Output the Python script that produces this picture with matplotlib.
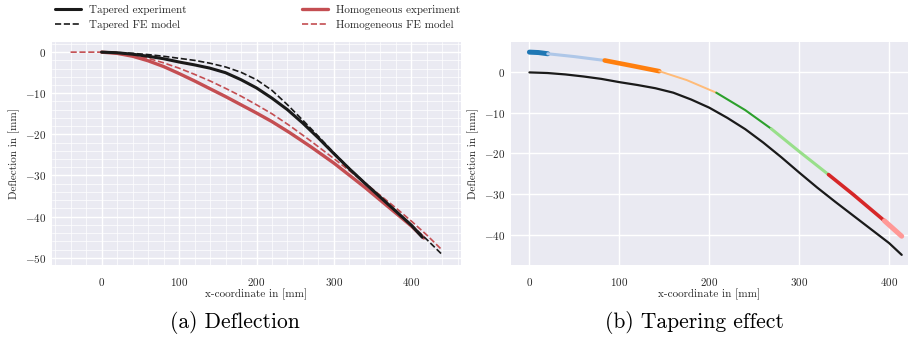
import matplotlib
matplotlib.use("Agg")
import matplotlib.pyplot as plt
import seaborn as sns
from matplotlib.ticker import AutoMinorLocator
from matplotlib.lines import Line2D

# ---------------- data ----------------
# Tapered experiment
tap_exp_x = [0, 20, 40, 60, 80, 100, 120, 140, 160, 180, 200, 220, 240, 260, 280,
             300, 320, 340, 360, 380, 400, 414]
tap_exp_y = [0, -0.15, -0.5, -1.0, -1.6, -2.4, -3.1, -3.9, -5.0, -6.7, -8.7, -11.2,
             -14.0, -17.3, -20.9, -24.7, -28.4, -31.9, -35.3, -38.7, -42.1, -45.0]
# Tapered FE model
tap_fe_x = [0, 20, 40, 60, 80, 100, 120, 140, 160, 180, 200, 220, 240, 260, 280,
            300, 320, 340, 360, 380, 400, 420, 440]
tap_fe_y = [0, -0.1, -0.3, -0.6, -1.0, -1.5, -2.0, -2.7, -3.6, -4.9, -6.7, -9.3,
            -12.8, -16.6, -20.5, -24.5, -28.3, -31.8, -35.3, -38.7, -42.1, -45.6,
            -49.3]
# Homogeneous experiment
hom_exp_x = [0, 20, 40, 60, 80, 100, 120, 140, 160, 180, 200, 220, 243, 270, 300,
             340, 370, 400, 416]
hom_exp_y = [0, -0.3, -1.0, -2.1, -3.5, -5.2, -7.0, -8.9, -10.8, -12.8, -14.8,
             -16.9, -19.6, -23.0, -27.0, -32.9, -37.6, -42.3, -45.2]
# Homogeneous FE model
hom_fe_x = [-40, 0, 20, 40, 60, 80, 100, 120, 140, 160, 180, 200, 220, 243, 270,
            300, 340, 380, 400, 420, 440]
hom_fe_y = [0, 0, -0.2, -0.7, -1.5, -2.6, -3.9, -5.4, -7.0, -8.8, -10.7, -12.8,
            -15.0, -17.9, -21.6, -25.9, -31.8, -37.9, -41.1, -44.5, -48.2]
# Tapering effect: section curve (offset) and section boundaries (indices)
sec_x = [0, 10, 20.4, 50, 83.7, 115, 144.4, 175, 207.8, 240, 268.9, 300, 332.6,
         360, 394.8, 414]
sec_y = [5.0, 4.9, 4.6, 3.9, 2.95, 1.6, 0.3, -1.9, -5.0, -9.3, -13.9, -19.5, -25.2,
         -30.1, -36.6, -40.4]
sec_bounds = [0, 2, 4, 6, 8, 10, 12, 14, 15]

labels = ["Tapered experiment", "Tapered FE model",
          "Homogeneous experiment", "Homogeneous FE model"]
captions = ["(a) Deflection", "(b) Tapering effect"]
xlabel = "x-coordinate in [mm]"
ylabel = "Deflection in [mm]"

# ---------------- style ----------------
sns.set_theme(style="darkgrid")
plt.rcParams['font.family'] = ['cmr10', 'DejaVu Serif']
plt.rcParams['mathtext.fontset'] = 'cm'
plt.rcParams['axes.formatter.use_mathtext'] = True
plt.rcParams['axes.unicode_minus'] = True

RED = "#C44E52"
BLACK = "#1a1a1a"
sec_colors = ["#1f77b4", "#aec7e8", "#ff7f0e", "#ffbb78",
              "#2ca02c", "#98df8a", "#d62728", "#ff9896"]
sec_widths = [3.6, 2.2, 3.3, 1.4, 1.5, 2.2, 2.6, 3.6]

W, H = 909, 340
fig = plt.figure(figsize=(W / 100, H / 100), dpi=100)

def ax_rect(l, r, t, b):
    return [l / W, 1 - b / H, (r - l) / W, (b - t) / H]

axL = fig.add_axes(ax_rect(52, 461, 42, 265))
axR = fig.add_axes(ax_rect(511, 908, 42, 265))

tick_fs = 8
lab_fs = 8

# left plot
axL.plot(tap_exp_x, tap_exp_y, color=BLACK, lw=2.2, zorder=3)
axL.plot(tap_fe_x, tap_fe_y, color=BLACK, lw=1.2, ls="--", zorder=4)
axL.plot(hom_exp_x, hom_exp_y, color=RED, lw=2.4, zorder=2)
axL.plot(hom_fe_x, hom_fe_y, color=RED, lw=1.2, ls="--", zorder=2.5)
axL.xaxis.set_minor_locator(AutoMinorLocator(5))
axL.yaxis.set_minor_locator(AutoMinorLocator(5))
axL.grid(which="major", color="white", lw=1.0)
axL.grid(which="minor", color="white", lw=0.5)
axL.set_yticks([0, -10, -20, -30, -40, -50])

# right plot
axR.plot(tap_exp_x, tap_exp_y, color=BLACK, lw=1.6, zorder=3)
for i in range(len(sec_bounds) - 1):
    a, b = sec_bounds[i], sec_bounds[i + 1]
    axR.plot(sec_x[a:b + 1], sec_y[a:b + 1], color=sec_colors[i],
             lw=sec_widths[i], solid_capstyle="round", zorder=3 + i * 0.01)
axR.set_xlim(-20.5, 421)
axR.grid(which="major", color="white", lw=1.0)
axR.set_yticks([0, -10, -20, -30, -40])

for ax in (axL, axR):
    ax.set_facecolor("#EAEAF2")
    for s in ax.spines.values():
        s.set_visible(False)
    ax.tick_params(which="both", length=0, labelsize=tick_fs, pad=4,
                   colors=".15")
    ax.tick_params(axis="x", pad=8)
    ax.set_xlabel(xlabel, fontsize=lab_fs, color=".15", labelpad=0)
    ax.set_ylabel(ylabel, fontsize=lab_fs, color=".15", labelpad=4)
    ax.set_xticks([0, 100, 200, 300, 400])

# legends
h1 = [Line2D([], [], color=BLACK, lw=2.2),
      Line2D([], [], color=BLACK, lw=1.2, ls="--")]
h2 = [Line2D([], [], color=RED, lw=2.4),
      Line2D([], [], color=RED, lw=1.2, ls="--")]
for hs, ls_, x0 in ((h1, labels[:2], 55), (h2, labels[2:], 302)):
    leg = fig.legend(hs, ls_, loc="upper left", bbox_to_anchor=(x0 / W, 1 - 5 / H),
                     frameon=False, fontsize=8, borderpad=0, borderaxespad=0,
                     handlelength=2.3, handletextpad=0.8, labelspacing=0.45)
    for t in leg.get_texts():
        t.set_color(".15")

fig.text(235 / W, 1 - 322 / H, captions[0], ha="center", va="center", fontsize=15.5,
         color="black")
fig.text(694 / W, 1 - 322 / H, captions[1], ha="center", va="center", fontsize=15.5,
         color="black")

fig.savefig("out.png", dpi=100, facecolor="white")
